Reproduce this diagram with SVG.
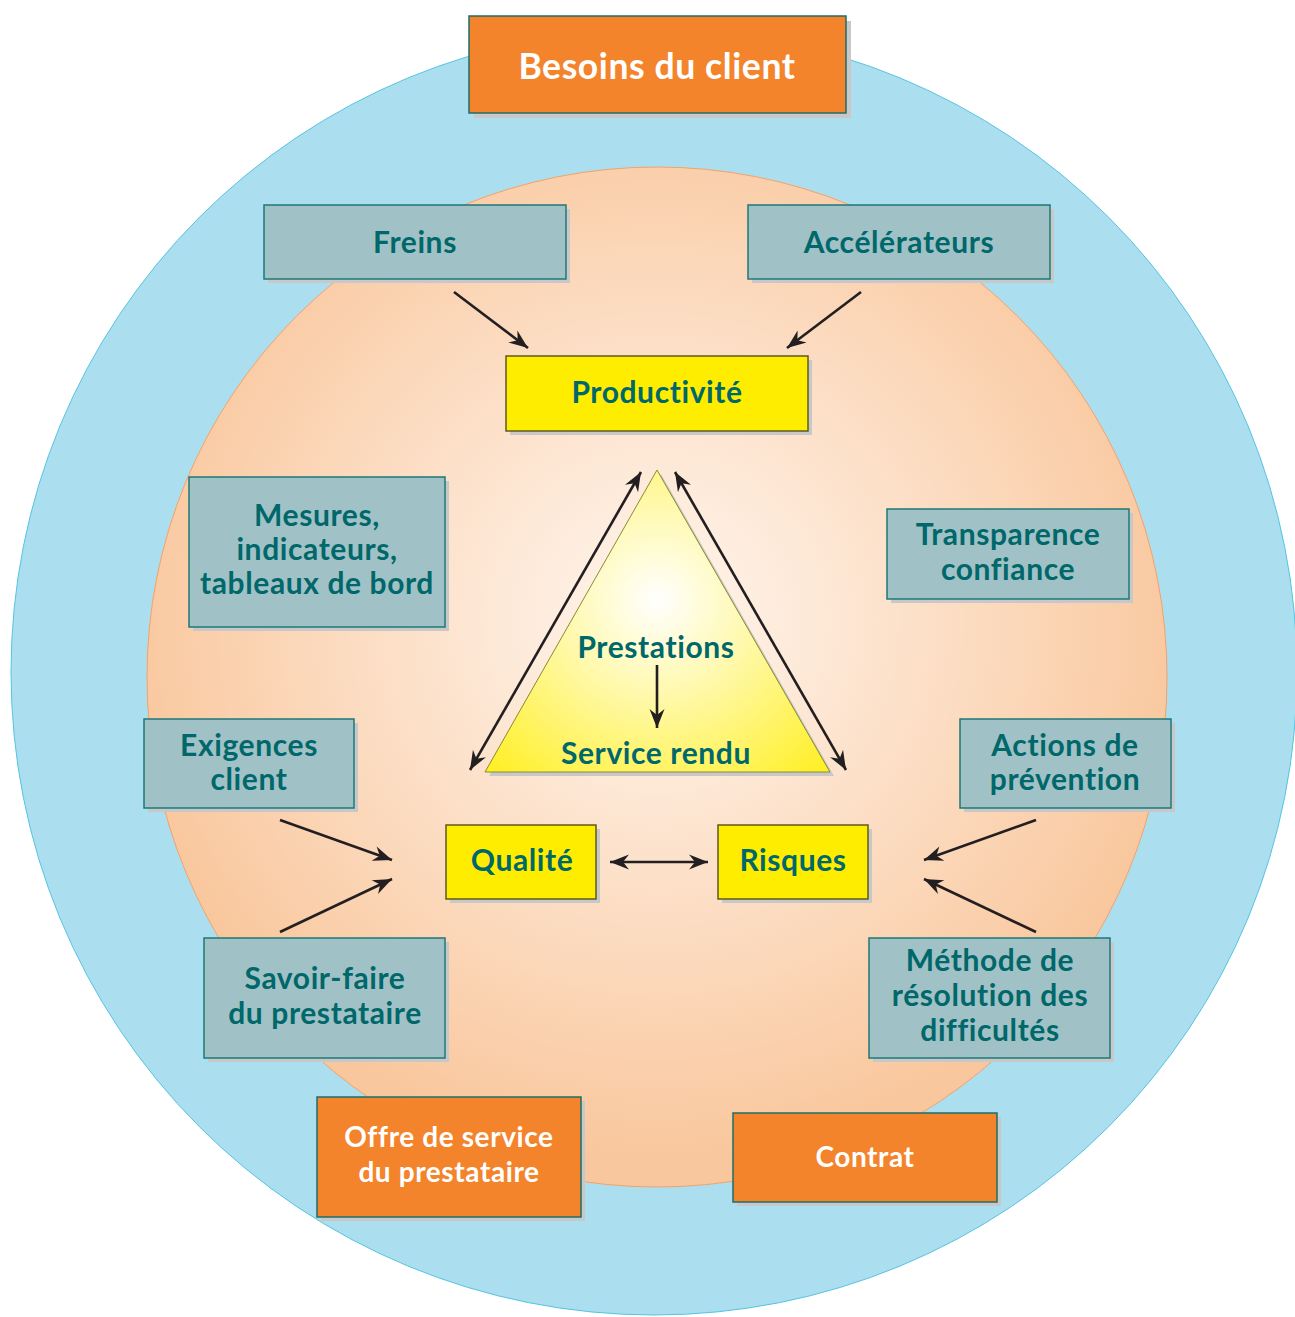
<svg xmlns="http://www.w3.org/2000/svg" width="1295" height="1317" viewBox="0 0 1295 1317">
<style>
.t{font-family:Lato,"Open Sans","Liberation Sans",sans-serif;font-weight:bold;font-size:30px;letter-spacing:0.6px;fill:#00676A;text-anchor:middle}
.w{fill:#FFFFFF;font-size:28px}
.big{font-size:35.5px}
.gb{fill:#A0C2C6;stroke:#1E7878;stroke-width:1.5}
.yb{fill:#FFED00;stroke:#5E5A1E;stroke-width:1.5}
.ob{fill:#F3842B;stroke:#1E6E6A;stroke-width:1.5}
.sh{fill:#C8C8C8}
.ar{fill:none;stroke:#231F20;stroke-width:2.6}
</style>
<defs>
<radialGradient id="og" cx="657" cy="620" r="540" gradientUnits="userSpaceOnUse">
<stop offset="0" stop-color="#FFF6EE"/>
<stop offset="0.55" stop-color="#FCDDC3"/>
<stop offset="1" stop-color="#F9C79D"/>
</radialGradient>
<radialGradient id="yg" cx="657" cy="600" r="260" gradientUnits="userSpaceOnUse">
<stop offset="0" stop-color="#FFFFFF"/>
<stop offset="0.35" stop-color="#FFF9B0"/>
<stop offset="1" stop-color="#FFEE10"/>
</radialGradient>
<marker id="ah" viewBox="-20 -8 22 16" refX="0" refY="0" markerWidth="22" markerHeight="16" markerUnits="userSpaceOnUse" orient="auto-start-reverse">
<path d="M0,0 L-19,-7.5 L-13,0 L-19,7.5 Z" fill="#231F20"/>
</marker>
</defs>
<circle cx="654" cy="672" r="643" fill="#ABDFEF" stroke="#55C3E2" stroke-width="1"/>
<circle cx="657" cy="677" r="510" fill="url(#og)" stroke="#F4A26A" stroke-width="1"/>

<g id="besoins">
<rect class="sh" x="474" y="21" width="377" height="97"/>
<rect class="ob" x="469" y="16" width="377" height="97"/>
<text class="t w big" x="657" y="79">Besoins du client</text>
</g>
<g id="freins">
<rect class="sh" x="268" y="209" width="302" height="74"/>
<rect class="gb" x="264" y="205" width="302" height="74"/>
<text class="t" x="415" y="253">Freins</text>
</g>
<g id="accelerateurs">
<rect class="sh" x="752" y="209" width="302" height="74"/>
<rect class="gb" x="748" y="205" width="302" height="74"/>
<text class="t" x="899" y="253">Accélérateurs</text>
</g>
<g id="productivite">
<rect class="sh" x="510" y="360" width="302" height="75"/>
<rect class="yb" x="506" y="356" width="302" height="75"/>
<text class="t" x="657" y="403">Productivité</text>
</g>
<g id="mesures">
<rect class="sh" x="193" y="481" width="256" height="150"/>
<rect class="gb" x="189" y="477" width="256" height="150"/>
<text class="t" x="317" y="526">Mesures,</text>
<text class="t" x="317" y="560">indicateurs,</text>
<text class="t" x="317" y="594">tableaux de bord</text>
</g>
<g id="transparence">
<rect class="sh" x="891" y="513" width="242" height="90"/>
<rect class="gb" x="887" y="509" width="242" height="90"/>
<text class="t" x="1008" y="545">Transparence</text>
<text class="t" x="1008" y="580">confiance</text>
</g>
<g id="prestations">
<polygon points="661,474 834,776 489,776" fill="#C8C8C8"/>
<polygon points="657,470 830,772 485,772" fill="url(#yg)" stroke="#8A8A30" stroke-width="1"/>
<text class="t" x="656" y="658">Prestations</text>
<text class="t" x="656" y="764">Service rendu</text>
</g>
<g id="exigences">
<rect class="sh" x="148" y="723" width="210" height="89"/>
<rect class="gb" x="144" y="719" width="210" height="89"/>
<text class="t" x="249" y="756">Exigences</text>
<text class="t" x="249" y="790">client</text>
</g>
<g id="actions">
<rect class="sh" x="964" y="723" width="211" height="89"/>
<rect class="gb" x="960" y="719" width="211" height="89"/>
<text class="t" x="1065" y="756">Actions de</text>
<text class="t" x="1065" y="790">prévention</text>
</g>
<g id="qualite">
<rect class="sh" x="450" y="829" width="150" height="74"/>
<rect class="yb" x="446" y="825" width="150" height="74"/>
<text class="t" x="522" y="871">Qualité</text>
</g>
<g id="risques">
<rect class="sh" x="722" y="829" width="150" height="74"/>
<rect class="yb" x="718" y="825" width="150" height="74"/>
<text class="t" x="793" y="871">Risques</text>
</g>
<g id="savoir">
<rect class="sh" x="208" y="942" width="241" height="120"/>
<rect class="gb" x="204" y="938" width="241" height="120"/>
<text class="t" x="325" y="989">Savoir-faire</text>
<text class="t" x="325" y="1024">du prestataire</text>
</g>
<g id="methode">
<rect class="sh" x="873" y="942" width="241" height="120"/>
<rect class="gb" x="869" y="938" width="241" height="120"/>
<text class="t" x="990" y="971">Méthode de</text>
<text class="t" x="990" y="1006">résolution des</text>
<text class="t" x="990" y="1041">difficultés</text>
</g>
<g id="offre">
<rect class="sh" x="321" y="1101" width="264" height="120"/>
<rect class="ob" x="317" y="1097" width="264" height="120"/>
<text class="t w" x="449" y="1147">Offre de service</text>
<text class="t w" x="449" y="1182">du prestataire</text>
</g>
<g id="contrat">
<rect class="sh" x="737" y="1117" width="264" height="89"/>
<rect class="ob" x="733" y="1113" width="264" height="89"/>
<text class="t w" x="865" y="1167">Contrat</text>
</g>

<g id="connectors">
<line class="ar" x1="454" y1="292" x2="528" y2="348" marker-end="url(#ah)"/>
<line class="ar" x1="861" y1="292" x2="787" y2="348" marker-end="url(#ah)"/>
<line class="ar" x1="470" y1="770" x2="641" y2="472" marker-start="url(#ah)" marker-end="url(#ah)"/>
<line class="ar" x1="675" y1="472" x2="846" y2="770" marker-start="url(#ah)" marker-end="url(#ah)"/>
<line class="ar" x1="657" y1="665" x2="657" y2="728" marker-end="url(#ah)"/>
<line class="ar" x1="610" y1="862" x2="708" y2="862" marker-start="url(#ah)" marker-end="url(#ah)"/>
<line class="ar" x1="280" y1="820" x2="392" y2="860" marker-end="url(#ah)"/>
<line class="ar" x1="280" y1="932" x2="392" y2="879" marker-end="url(#ah)"/>
<line class="ar" x1="1036" y1="820" x2="924" y2="860" marker-end="url(#ah)"/>
<line class="ar" x1="1036" y1="932" x2="924" y2="879" marker-end="url(#ah)"/>
</g>
</svg>
